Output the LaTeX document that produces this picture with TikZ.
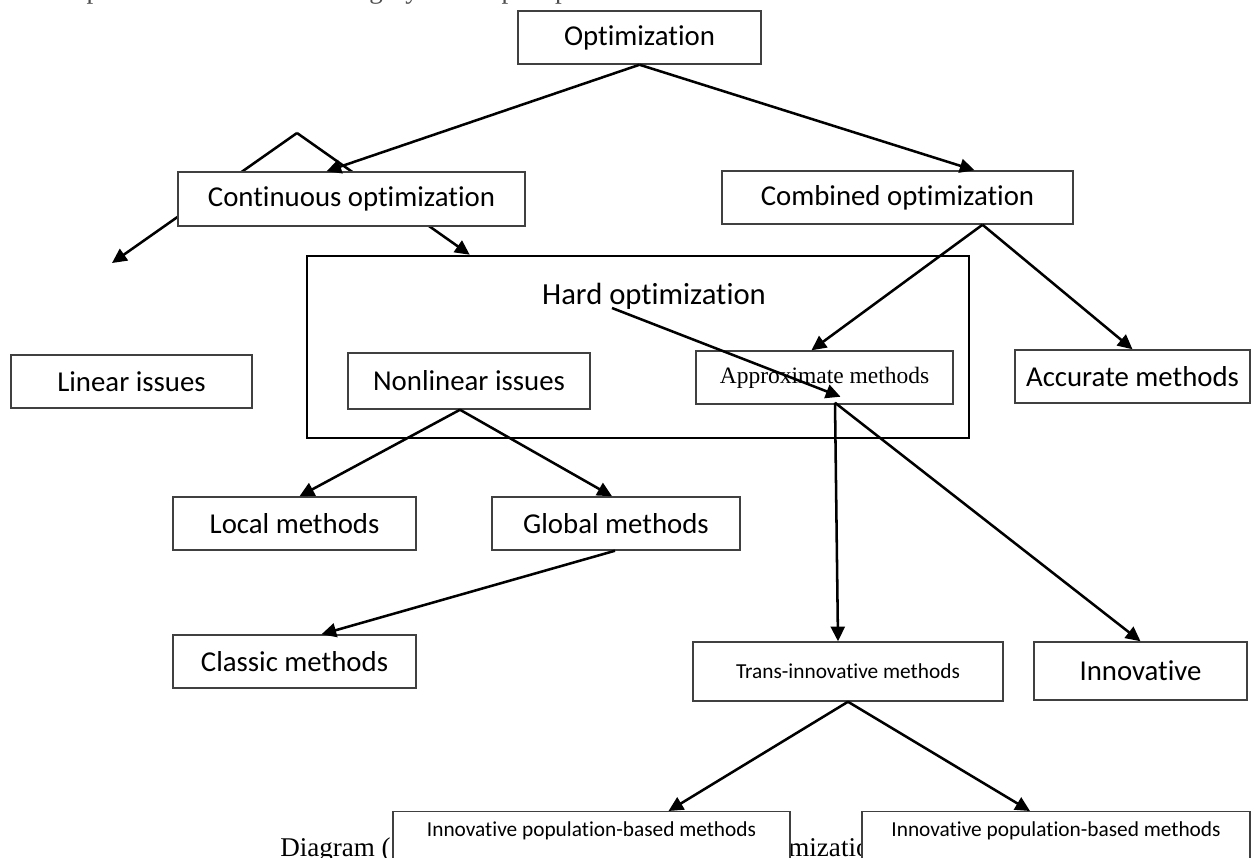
\documentclass[tikz,border=0pt]{standalone}
\usepackage{fontspec}
\setmainfont{Carlito}[Ligatures=CommonOff]
\newfontfamily\tnr{Liberation Serif}
\usetikzlibrary{arrows.meta,calc}
\begin{document}
\begin{tikzpicture}[x=0.75pt,y=-0.75pt,
  box/.style={draw=black!75, line width=1.1pt, fill=white, inner sep=0pt,
    font=\fontsize{21.6}{25}\selectfont},
  sz/.style 2 args={minimum width=#1*0.75pt, minimum height=#2*0.75pt},
  popbox/.style={box, font=\fontsize{16}{19}\selectfont, text height=18.75pt,
    text depth=60pt, anchor=north},
  conn/.style={line width=1.9pt, -{Triangle[length=11pt,width=10.5pt]}},
  serif/.style={font=\tnr\fontsize{20.3}{24}\selectfont, inner sep=0pt}]
\useasboundingbox (0,0) rectangle (1260,857);
\begin{scope}
\clip (0,0) rectangle (1260,857);
% text line cut off at the top edge
\node[serif, anchor=base west, text=black!70] (topline) at (15,-1.5) {These problems fall into the category of complex problems.};
% caption fragments (partly hidden by the boxes)
\node[serif, anchor=base west] (capa) at (280,856) {Diagram (};
\node[serif, anchor=base west] (capb) at (746,856) {optimization};

% hard optimization frame
\node[draw=black, line width=1.9pt, inner sep=0pt, sz={662}{182}] (hard) at (638,347) {};
\node[inner sep=0pt, font=\fontsize{23}{27}\selectfont] (hardlbl) at (654,296) {Hard optimization};

% arrows partly hidden by "Continuous optimization"
\coordinate (apex) at (297,133);
\coordinate (linend) at (112,263);
\draw[conn] (apex) -- (linend);
\draw[conn] (apex) -- ($(hard.north west)+(164,0)$);

% boxes
\node[box, sz={243}{53}] (opt) at (639.5,37.5) {Optimization};
\node[box, sz={347}{54}] (cont) at (351.5,199) {Continuous optimization};
\node[box, sz={351}{53}] (comb) at (897.5,197.5) {Combined optimization};
\node[box, sz={241}{53}] (lin) at (131.5,381.5) {Linear issues};
\node[box, sz={242}{56}] (nonlin) at (469,381) {Nonlinear issues};
\node[box, sz={257}{53}, font=\tnr\fontsize{17.6}{21}\selectfont] (approx) at (824.5,377.5) {Approximate methods};
\node[box, sz={235}{53}] (accur) at (1132.5,376.5) {Accurate methods};
\node[box, sz={243}{53}] (local) at (294.5,523.5) {Local methods};
\node[box, sz={248}{53}] (global) at (616,523.5) {Global methods};
\node[box, sz={243}{53}] (classic) at (294.5,661.5) {Classic methods};
\node[box, sz={310}{59}, font=\fontsize{16}{19}\selectfont] (trans) at (848,671.5) {Trans-innovative methods};
\node[box, sz={213}{58}] (innov) at (1140.5,671) {Innovative};
\node[popbox, minimum width=397*0.75pt] (pop1) at (591.5,811) {Innovative population-based methods};
\node[popbox, minimum width=388*0.75pt] (pop2) at (1056,811) {Innovative population-based methods};

% connectors
\draw[conn] (opt.south) -- ($(cont.north)+(-25,0)$);
\draw[conn] (opt.south) -- ($(comb.north)+(77,0)$);
\draw[conn] ($(comb.south)+(85,0)$) -- ($(approx.north)+(-13,0)$);
\draw[conn] ($(comb.south)+(85,0)$) -- (accur.north);
\coordinate (hs) at (612,308);
\draw[conn] (hs) -- ($(approx.south)+(16,-8)$);
\draw[conn] ($(approx.south)+(10.5,-2)$) -- ($(trans.north)+(-10,0)$);
\draw[conn] ($(approx.south)+(10.5,-2)$) -- (innov.north);
\draw[conn] ($(nonlin.south)+(-9,0)$) -- ($(local.north)+(5,0)$);
\draw[conn] ($(nonlin.south)+(-9,0)$) -- ($(global.north)+(-4,0)$);
\draw[conn] ($(global.south)+(-1,0)$) -- ($(classic.north)+(27,0)$);
\draw[conn] (trans.south) -- ($(pop1.north)+(77,0)$);
\draw[conn] (trans.south) -- ($(pop2.north)+(-26,0)$);
\end{scope}
\end{tikzpicture}
\end{document}
